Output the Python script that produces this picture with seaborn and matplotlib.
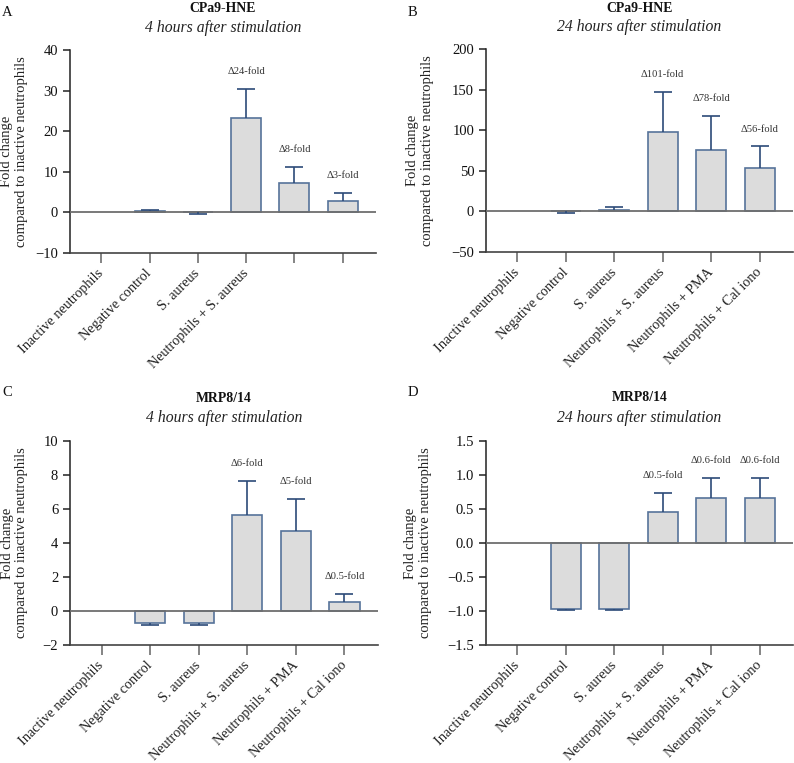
import numpy as np
import pandas as pd
import matplotlib
matplotlib.use("Agg")
import matplotlib.pyplot as plt
import seaborn as sns

# ---------------- data ----------------
categories = ["Inactive neutrophils", "Negative control", "S. aureus",
              "Neutrophils + S. aureus", "Neutrophils + PMA", "Neutrophils + Cal iono"]
labels_A = ["Inactive neutrophils", "Negative control", "S. aureus",
            "Neutrophils + S. aureus", "", ""]
labels_full = categories

A_vals = [np.nan, 0.3, 0.2, 23.2, 7.3, 2.7]
A_hi = [0, 0.2, 0, 7.3, 3.9, 2.0]
A_lo = [0, 0, 0.6, 0, 0, 0]
A_ann = ["", "", "", "Δ24-fold", "Δ8-fold", "Δ3-fold"]

B_vals = [np.nan, 1.0, 2.0, 98, 76, 54]
B_hi = [0, 0, 3.5, 49, 42, 26]
B_lo = [0, 3.0, 0, 0, 0, 0]
B_ann = ["", "", "", "Δ101-fold", "Δ78-fold", "Δ56-fold"]

C_vals = [np.nan, -0.72, -0.72, 5.65, 4.72, 0.55]
C_hi = [0, 0, 0, 2.0, 1.87, 0.43]
C_lo = [0, 0.1, 0.1, 0, 0, 0]
C_ann = ["", "", "", "Δ6-fold", "Δ5-fold", "Δ0.5-fold"]

D_vals = [np.nan, -0.97, -0.97, 0.46, 0.66, 0.66]
D_hi = [0, 0, 0, 0.28, 0.30, 0.30]
D_lo = [0, 0.02, 0.02, 0, 0, 0]
D_ann = ["", "", "", "Δ0.5-fold", "Δ0.6-fold", "Δ0.6-fold"]

# ---------------- style ----------------
sns.set_theme(style="ticks")
plt.rcParams["font.family"] = ["Liberation Serif", "DejaVu Serif"]
plt.rcParams["axes.unicode_minus"] = True

W, H = 794, 763
fig = plt.figure(figsize=(W / 100, H / 100), dpi=100)

BAR_FILL = "#dcdcdc"
BAR_EDGE = "#56739a"
ERR_COL = "#2c4a78"
ZERO_COL = "#6e6e6e"


def px_axes(l, t, r, b):
    return fig.add_axes([l / W, 1 - b / H, (r - l) / W, (b - t) / H])


def make_fmt(decimals):
    def f(v, pos):
        s = f"{abs(v):.{decimals}f}"
        return ("\u2212" + s) if v < -1e-9 else s
    return matplotlib.ticker.FuncFormatter(f)


def panel(box, vals, hi, lo, ann, xlabels, ylim, ystep, decimals, letter, title, subtitle,
          letter_xy, title_y, sub_y, ylab_x):
    ax = px_axes(*box)
    df = pd.DataFrame({"cat": categories, "val": vals})
    sns.barplot(data=df, x="cat", y="val", order=categories, ax=ax,
                color=BAR_FILL, edgecolor=BAR_EDGE, linewidth=1.2,
                width=0.62, saturation=1, errorbar=None, zorder=2)
    x = np.arange(len(categories))
    v = np.array(vals, dtype=float)
    hi = np.array(hi, dtype=float)
    lo = np.array(lo, dtype=float)
    ok = ~np.isnan(v)
    ax.errorbar(x[ok], v[ok], yerr=[lo[ok], hi[ok]], fmt="none",
                ecolor=ERR_COL, elinewidth=1.2, capsize=0, zorder=4)
    m_hi = ok & (hi > 0)
    m_lo = ok & (lo > 0)
    ax.plot(x[m_hi], v[m_hi] + hi[m_hi], ls="none", marker="_", ms=12.5,
            mew=1.2, color=ERR_COL, zorder=4)
    ax.plot(x[m_lo], v[m_lo] - lo[m_lo], ls="none", marker="_", ms=12.5,
            mew=1.2, color=ERR_COL, zorder=4)
    for xi, vi, hii, txt in zip(x, v, hi, ann):
        if txt:
            ax.annotate(txt, (xi, vi + hii), xytext=(0, 12.5),
                        textcoords="offset points", ha="center", va="center",
                        fontsize=7.6, color="#333333")
    ax.axhline(0, color=ZERO_COL, lw=1.3, zorder=3)
    ax.set_xlim(-0.65, 5.69)
    ax.set_ylim(*ylim)
    ax.set_yticks(np.arange(ylim[0], ylim[1] + ystep / 2, ystep))
    ax.yaxis.set_major_formatter(make_fmt(decimals))
    ax.set_xticks(x)
    ax.set_xticklabels(xlabels, rotation=45, ha="right", va="center",
                       rotation_mode="anchor", fontsize=10.3, color="#222222")
    ax.tick_params(axis="x", length=7, width=1.2, color="#707070", pad=6)
    ax.tick_params(axis="y", length=5, width=1.1, color="#222222",
                   labelsize=10.5, labelcolor="#111111")
    ax.set_xlabel("")
    ax.set_ylabel("Fold change\ncompared to inactive neutrophils", fontsize=10.5,
                  color="#222222", linespacing=1.18)
    ax.yaxis.set_label_coords(ylab_x, 0.5)
    for s in ["top", "right"]:
        ax.spines[s].set_visible(False)
    ax.spines["left"].set_color("#222222")
    ax.spines["left"].set_linewidth(1.1)
    ax.spines["bottom"].set_color("#444444")
    ax.spines["bottom"].set_linewidth(1.2)
    cx = (box[0] + box[2]) / 2
    fig.text(letter_xy[0] / W, 1 - letter_xy[1] / H, letter, fontsize=10.5,
             ha="left", va="center", color="#111111")
    fig.text(cx / W, 1 - title_y / H, title, fontsize=9.9, fontweight="bold",
             ha="center", va="center", color="#111111")
    fig.text(cx / W, 1 - sub_y / H, subtitle, fontsize=11.3, fontstyle="italic",
             ha="center", va="center", color="#222222")
    return ax


panel((70, 50, 376, 253), A_vals, A_hi, A_lo, A_ann, labels_A, (-10, 40), 10, 0,
      "A", "CPa9-HNE", "4 hours after stimulation", (2, 13), 9, 28, -0.137)
panel((486, 49, 793, 252), B_vals, B_hi, B_lo, B_ann, labels_full, (-50, 200), 50, 0,
      "B", "CPa9-HNE", "24 hours after stimulation", (408, 13), 8, 27, -0.169)
panel((70, 441, 378, 645), C_vals, C_hi, C_lo, C_ann, labels_full, (-2, 10), 2, 0,
      "C", "MRP8/14", "4 hours after stimulation", (2, 392), 399, 418, -0.135)
panel((486, 441, 793, 645), D_vals, D_hi, D_lo, D_ann, labels_full, (-1.5, 1.5), 0.5, 1,
      "D", "MRP8/14", "24 hours after stimulation", (408, 392), 398, 418, -0.177)

fig.savefig("out.png", dpi=100)
